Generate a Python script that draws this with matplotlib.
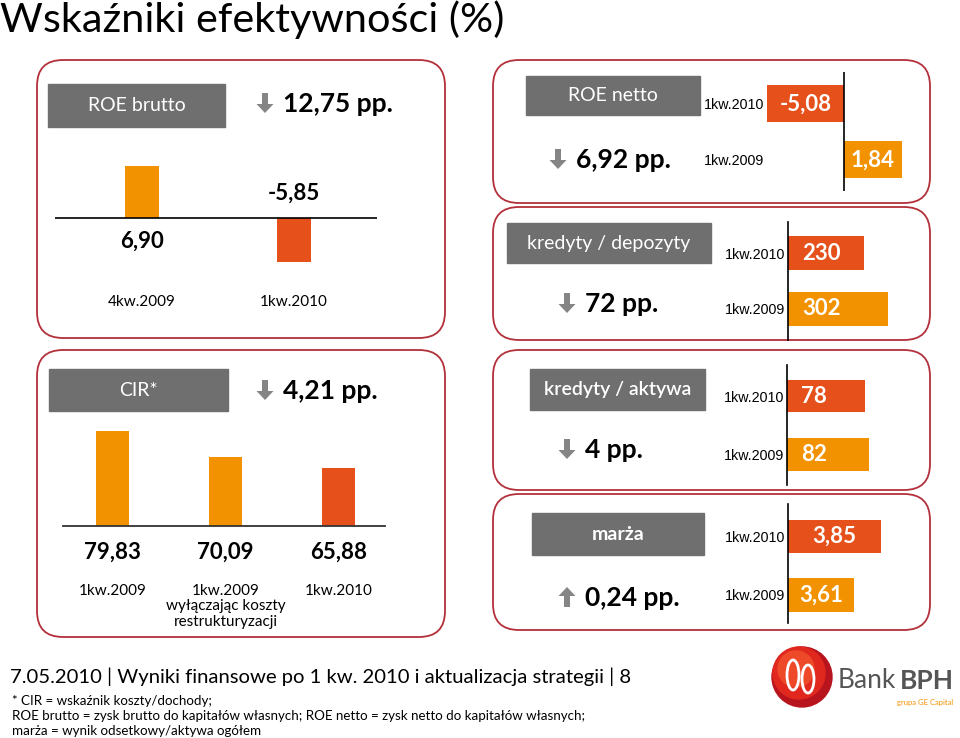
import matplotlib
matplotlib.use("Agg")
import matplotlib.pyplot as plt
from matplotlib.patches import FancyBboxPatch, FancyArrow, Circle, Ellipse

plt.rcParams['font.family'] = ['Lato', 'DejaVu Sans']

# data
roe_brutto_labels = ['4kw.2009', '1kw.2010']
roe_brutto_values = [6.90, -5.85]
roe_netto_labels = ['1kw.2010', '1kw.2009']
roe_netto_values = [-5.08, 1.84]
kd_labels = ['1kw.2010', '1kw.2009']
kd_values = [230, 302]
cir_labels = ['1kw.2009', '1kw.2009\nwyłączając koszty\nrestrukturyzacji', '1kw.2010']
cir_values = [79.83, 70.09, 65.88]
ka_labels = ['1kw.2010', '1kw.2009']
ka_values = [78, 82]
marza_labels = ['1kw.2010', '1kw.2009']
marza_values = [3.85, 3.61]

ORANGE = '#F39200'
RED = '#E5501B'
GREY = '#6F6F6F'
ARROW = '#858585'
BORDER = '#B3303A'
W, H = 960, 738

def fmt(v):
    if float(v).is_integer():
        return str(int(v))
    return f"{v:.2f}".replace('.', ',')

def bar_color(lab):
    return RED if lab.startswith('1kw.2010') else ORANGE

fig = plt.figure(figsize=(9.6, 7.38), dpi=100)
bg = fig.add_axes([0, 0, 1, 1])
bg.set_xlim(0, W)
bg.set_ylim(H, 0)
bg.axis('off')

def px_axes(x0, y0, x1, y1):
    ax = fig.add_axes([x0 / W, 1 - y1 / H, (x1 - x0) / W, (y1 - y0) / H])
    ax.patch.set_alpha(0)
    for s in ax.spines.values():
        s.set_visible(False)
    ax.set_xticks([])
    ax.set_yticks([])
    return ax

def panel(x0, y0, x1, y1):
    bg.add_patch(FancyBboxPatch((x0, y0), x1 - x0, y1 - y0,
                                boxstyle='round,pad=0,rounding_size=26',
                                fc='white', ec=BORDER, lw=1.3, zorder=1))

def grey_label(x0, y0, x1, y1, text, weight='normal'):
    bg.add_patch(plt.Rectangle((x0, y0), x1 - x0, y1 - y0, color=GREY, zorder=2))
    bg.text((x0 + x1) / 2, (y0 + y1) / 2, text, color='white', fontsize=14,
            ha='center', va='center', fontweight=weight, zorder=3)

def change(x, y, text, up=False):
    if up:
        bg.add_patch(FancyArrow(x, y + 10, 0, -20, width=6, head_width=17, head_length=9,
                                length_includes_head=True, color=ARROW, lw=0, zorder=3))
    else:
        bg.add_patch(FancyArrow(x, y - 10, 0, 20, width=6, head_width=17, head_length=9,
                                length_includes_head=True, color=ARROW, lw=0, zorder=3))
    bg.text(x + 18, y + 1, text, fontsize=19, fontweight='bold', va='center', zorder=3)

# title
bg.text(0, 20, 'Wskaźniki efektywności (%)', fontsize=29.8, va='center')

# panels
panel(37, 60, 445, 338)
panel(493, 60, 930, 203)
panel(493, 207, 930, 340)
panel(37, 350, 445, 637)
panel(493, 350, 930, 490)
panel(493, 494, 930, 630)

grey_label(48, 84, 225, 127, 'ROE brutto')
grey_label(526, 76, 700, 115, 'ROE netto')
grey_label(507, 223, 711, 263, 'kredyty / depozyty')
grey_label(49, 369, 228, 411, 'CIR*')
grey_label(530, 369, 705, 410, 'kredyty / aktywa', weight='semibold')
grey_label(532, 513, 704, 555, 'marża', weight='bold')

change(265, 103, '12,75 pp.')
change(558, 159, '6,92 pp.')
change(567, 303, '72 pp.')
change(265, 390, '4,21 pp.')
change(567, 449, '4 pp.')
change(567, 597, '0,24 pp.', up=True)

# ROE brutto - vertical bars
ax = px_axes(55, 150, 377, 290)
ax.bar(range(2), roe_brutto_values, width=0.22, color=[ORANGE, RED])
ax.axhline(0, color='black', lw=1.2)
ax.set_xlim(-0.572, 1.546)
ax.set_ylim(-72 / 7.5, 68 / 7.5)
for i, (lab, v) in enumerate(zip(roe_brutto_labels, roe_brutto_values)):
    off = -23 if v > 0 else 25
    ax.annotate(fmt(v), (i, 0), xytext=(0, off), textcoords='offset pixels',
                ha='center', va='center', fontsize=16, fontweight='bold',
                annotation_clip=False)
    ax.annotate(lab, (i, 0), xytext=(0, -84), textcoords='offset pixels',
                ha='center', va='center', fontsize=11, annotation_clip=False)

# CIR - vertical bars
ax = px_axes(63, 400, 385, 526)
ax.bar(range(3), cir_values, width=0.29, color=[bar_color(l) for l in cir_labels])
ax.spines['bottom'].set_visible(True)
ax.spines['bottom'].set_color('#333333')
ax.spines['bottom'].set_linewidth(1.3)
ax.set_xlim(-0.438, 2.412)
ax.set_ylim(44, 44 + 126 / 2.65)
for i, (lab, v) in enumerate(zip(cir_labels, cir_values)):
    ax.annotate(fmt(v), (i, 44), xytext=(0, -26), textcoords='offset pixels',
                ha='center', va='center', fontsize=16, fontweight='bold',
                annotation_clip=False)
    ax.annotate(lab, (i, 44), xytext=(0, -58), textcoords='offset pixels',
                ha='center', va='top', fontsize=11, linespacing=1.12,
                annotation_clip=False)

def hbar(rect, labels, values, xlim, ylim, height, scale='linear', centered=True):
    ax = px_axes(*rect)
    if scale == 'symlog':
        ax.set_xscale('symlog', linthresh=1)
        ax.set_xticks([])
        ax.minorticks_off()
    ax.barh(range(len(values)), values, height=height,
            color=[bar_color(l) for l in labels])
    ax.set_xlim(*xlim)
    ax.set_ylim(*ylim)
    ax.set_yticks(range(len(labels)), labels)
    ax.tick_params(axis='y', length=0, pad=2)
    for t in ax.get_yticklabels():
        t.set_fontfamily('Liberation Sans')
        t.set_fontsize(10.3)
    lo = max(xlim[0], 0)
    for i, v in enumerate(values):
        if centered:
            # middle of the visible bar, taken in screen space
            p0 = ax.transData.transform((lo, i))
            p1 = ax.transData.transform((v, i))
            xm, ym = ax.transData.inverted().transform((p0 + p1) / 2)
            ax.text(xm, i, fmt(v), ha='center', va='center',
                    color='white', fontsize=16, fontweight='bold')
        else:
            ax.annotate(fmt(v), (lo, i), xytext=(14, 0), textcoords='offset pixels',
                        ha='left', va='center', color='white', fontsize=16,
                        fontweight='bold')
    return ax

# ROE netto
ax = hbar((767, 72, 930, 191), roe_netto_labels, roe_netto_values,
          (-5.12, 8.5), (1.554, -0.571), 0.66, scale='symlog')
ax.axvline(0, color='black', lw=1.2)

# kredyty / depozyty
ax = hbar((788, 222, 930, 340), kd_labels, kd_values,
          (0, 142 / 0.33), (1.554, -0.554), 0.59, centered=False)
ax.spines['left'].set_visible(True)
ax.spines['left'].set_linewidth(1.2)

# kredyty / aktywa
ax = hbar((787, 365, 930, 485), ka_labels, ka_values,
          (0, 143), (1.52, -0.53), 0.56, centered=False)
ax.spines['left'].set_visible(True)
ax.spines['left'].set_linewidth(1.2)

# marza
ax = hbar((788, 504, 930, 623), marza_labels, marza_values,
          (3.0, 3.0 + 142 / 109), (1.48, -0.556), 0.58)
ax.spines['left'].set_visible(True)
ax.spines['left'].set_linewidth(1.2)

# footer
bg.text(10, 677, '7.05.2010 | Wyniki finansowe po 1 kw. 2010 i aktualizacja strategii | 8',
        fontsize=14.6, va='center')
bg.text(12, 701, '* CIR = wskaźnik koszty/dochody;', fontsize=9.6, va='center')
bg.text(12, 716, 'ROE brutto = zysk brutto do kapitałów własnych; ROE netto = zysk netto do kapitałów własnych;',
        fontsize=9.6, va='center')
bg.text(12, 731, 'marża = wynik odsetkowy/aktywa ogółem', fontsize=9.6, va='center')

# logo
bg.add_patch(Circle((802, 677), 30, color='#B8141E', zorder=2))
bg.add_patch(Circle((799, 673), 26, color='#E0281E', zorder=2))
bg.add_patch(Circle((796, 669), 18, color='#EE4A2A', zorder=2))
bg.add_patch(Ellipse((793, 675), 12, 30, fc='none', ec='white', lw=2, zorder=3))
bg.add_patch(Ellipse((808, 679), 12, 28, fc='none', ec='white', lw=2, zorder=3))
bg.text(838, 681, 'Bank', fontsize=19, color='#555555', va='center')
bg.text(900, 681, 'BPH', fontsize=19, color='#555555', va='center', fontweight='bold')
bg.text(953, 703, 'grupa GE Capital', fontsize=5.5, color=ORANGE, ha='right', va='center')

fig.savefig('out.png', dpi=100)
